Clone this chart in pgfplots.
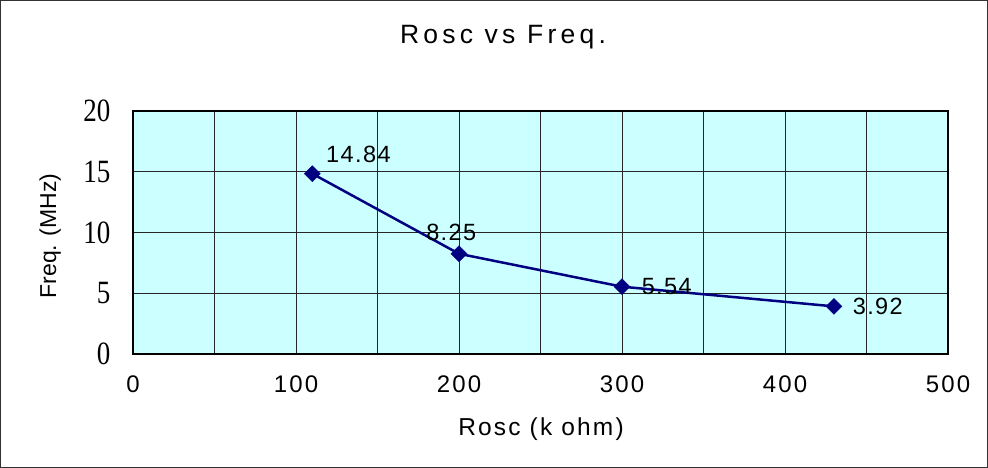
\documentclass[border=0pt]{standalone}
\usepackage{fontspec}
\setmainfont{Liberation Sans}
\usepackage{pgfplots}
\pgfplotsset{compat=1.18}
\newfontfamily\arialA[LetterSpace=6]{Liberation Sans}
\newfontfamily\arialX[LetterSpace=9]{Liberation Sans}
\newfontfamily\arialT[LetterSpace=16]{Liberation Sans}
\newfontfamily\arialN{Liberation Sans}
\newfontfamily\timesS[FakeStretch=0.83]{Liberation Serif}
\definecolor{bgc}{HTML}{CCFFFF}
\definecolor{navyc}{HTML}{000080}
\begin{document}
\begin{tikzpicture}
\useasboundingbox (0,0) rectangle (988pt,468pt);
\draw[line width=1pt, black!80] (0.5pt,0.5pt) rectangle (987.5pt,467.5pt);
\begin{axis}[
  at={(133pt,114pt)}, anchor=south west,
  scale only axis, width=815pt, height=243pt,
  xmin=0, xmax=500, ymin=0, ymax=20,
  xtick={0,100,...,500}, ytick={0,5,...,20},
  minor xtick={50,150,250,350,450},
  grid=both,
  major grid style={black!85, line width=1pt},
  minor grid style={black!85, line width=1pt},
  axis background/.style={fill=bgc},
  axis line style={line width=2.5pt},
  major tick length=0pt, minor tick length=0pt,
  /pgf/number format/assume math mode=true,
  xticklabel style={font=\arialX\fontsize{24}{26}\selectfont, yshift=-18pt},
  yticklabel style={font=\timesS\fontsize{32.5}{34}\selectfont, xshift=-19pt},
]
\addplot[navyc, line width=2.5pt, mark=square*, mark size=5.6pt, mark options={rotate=45, fill=navyc, line width=0.5pt}]
  coordinates {(110,14.84) (200,8.25) (300,5.54) (430,3.92)};
\begin{scope}[every node/.style={font=\arialA\fontsize{23.5}{25}\selectfont, inner sep=0pt, anchor=west}]
\node at (axis cs:118.4,16.40) {14.84};
\node at (axis cs:179.8,9.98) {8.25};
\node at (axis cs:312,5.56) {5.54};
\node at (axis cs:441.5,3.95) {3.92};
\end{scope}
\end{axis}
\node[font=\arialT\fontsize{26.5}{28}\selectfont, anchor=base, inner sep=0pt] at (503pt,424.7pt) {Rosc vs Freq.};
\node[font=\arialX\fontsize{24.5}{26}\selectfont, anchor=base, inner sep=0pt] at (541pt,32pt) {Rosc (k ohm)};
\node[font=\arialN\fontsize{23}{24}\selectfont, anchor=base, inner sep=0pt, rotate=90] at (56pt,232pt) {Freq. (MHz)};
\end{tikzpicture}
\end{document}
